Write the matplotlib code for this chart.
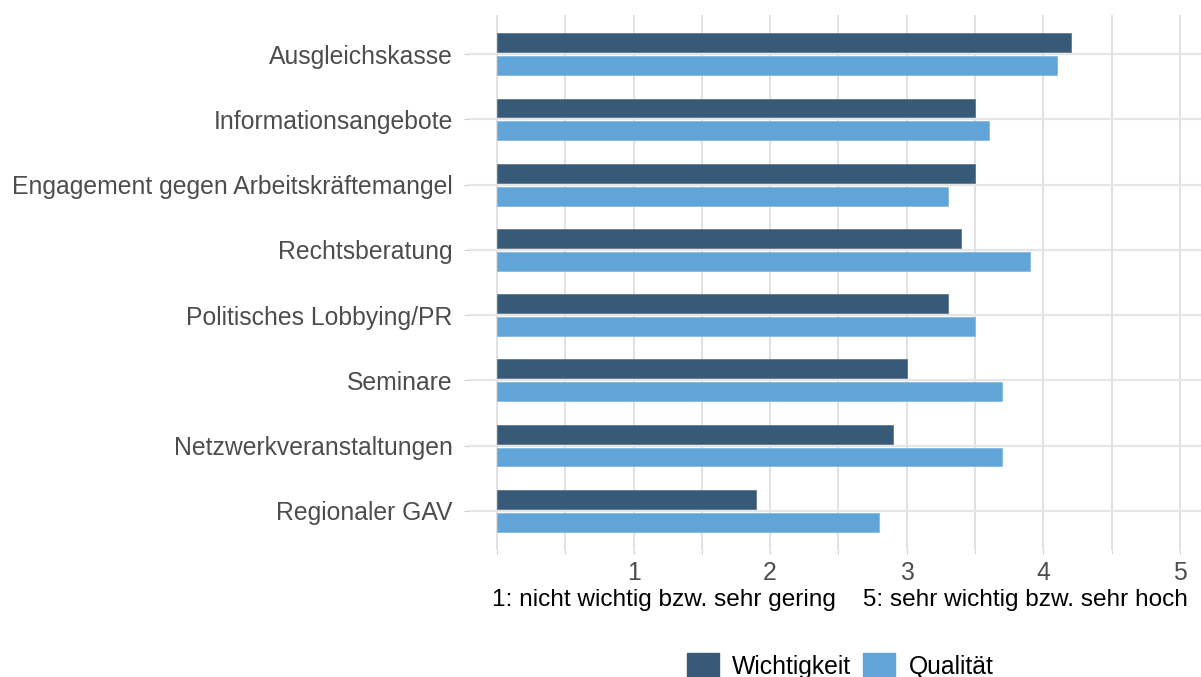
import matplotlib
matplotlib.use("Agg")
import matplotlib.pyplot as plt
import numpy as np
from matplotlib.patches import Patch

plt.rcParams['font.family'] = ['Liberation Sans', 'DejaVu Sans']

categories = ["Ausgleichskasse", "Informationsangebote", "Engagement gegen Arbeitskräftemangel",
              "Rechtsberatung", "Politisches Lobbying/PR", "Seminare",
              "Netzwerkveranstaltungen", "Regionaler GAV"]
wichtigkeit = [4.2, 3.5, 3.5, 3.4, 3.3, 3.0, 2.9, 1.9]
qualitaet = [4.1, 3.6, 3.3, 3.9, 3.5, 3.7, 3.7, 2.8]
series_names = ["Wichtigkeit", "Qualität"]
xticks = [0, 1, 2, 3, 4, 5]
xticklabels = ["", "1", "2", "3", "4", "5"]
xlabel = "1: nicht wichtig bzw. sehr gering    5: sehr wichtig bzw. sehr hoch"

c_dark = "#365a78"
c_light = "#61a5d8"
fs = 17.85

fig = plt.figure(figsize=(12.01, 6.77), dpi=100)
ax = fig.add_axes([468/1201, 1-550/677, 1-468/1201, (550-15)/677])

n = len(categories)
y = np.arange(n)[::-1].astype(float)
h = 0.29
off = 0.175
ax.barh(y + off, wichtigkeit, height=h, color=c_dark, edgecolor="#5a6e80", linewidth=0.5, zorder=3)
ax.barh(y - off, qualitaet, height=h, color=c_light, edgecolor="#7fb3dd", linewidth=0.5, zorder=3)

ax.set_xlim(-0.212, 5.155)
ax.set_ylim(-0.6, n - 1 + 0.6)
ax.set_yticks(y)
ax.set_yticklabels(categories, fontsize=fs, color="#4d4d4d")
ax.set_xticks(xticks)
ax.set_xticklabels(xticklabels, fontsize=fs, color="#4d4d4d")
ax.set_xticks(np.arange(0.5, 5.01, 1.0), minor=True)
ax.tick_params(axis='x', which='both', length=3, color="#cccccc", pad=5)
ax.tick_params(axis='y', length=3, color="#cccccc", pad=8)

for xv in np.arange(0, 5.01, 0.5):
    ax.axvline(xv, color="#dedede", linewidth=1.3, zorder=1)
for yv in y:
    ax.axhline(yv, color="#e6e6e6", linewidth=1.6, zorder=1)

for s in ax.spines.values():
    s.set_visible(False)

fig.text(840/1201, 1-600/677, xlabel, ha="center", va="center", fontsize=17.6, color="black")

handles = [Patch(facecolor=c_dark, edgecolor=c_dark), Patch(facecolor=c_light, edgecolor=c_light)]
fig.legend(handles, series_names, loc="center", bbox_to_anchor=(840/1201, 1-666/677),
           ncol=2, frameon=False, fontsize=fs, handlelength=1.29, handleheight=1.29,
           handletextpad=0.53, columnspacing=0.5, borderpad=0)

fig.savefig("out.png", dpi=100)
